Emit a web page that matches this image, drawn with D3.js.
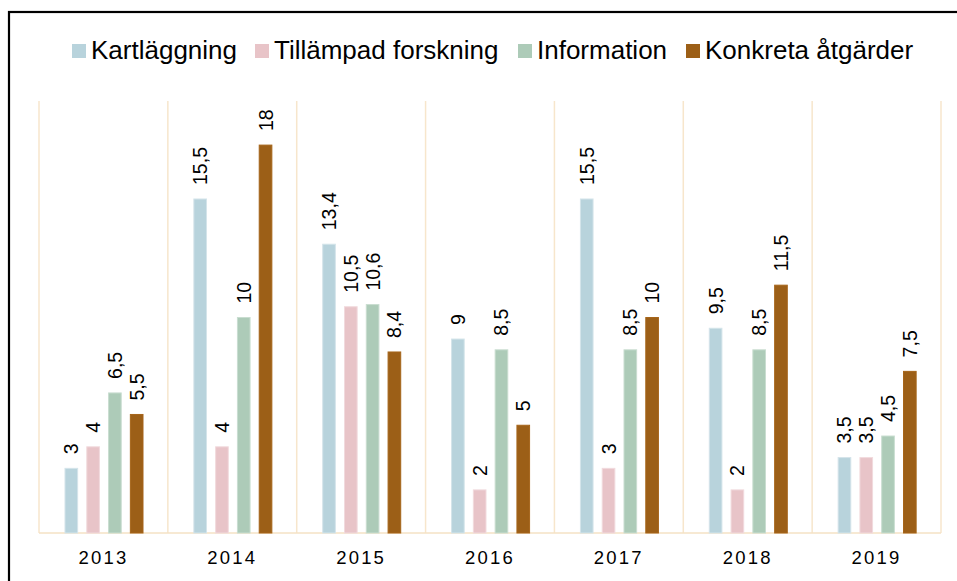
<!DOCTYPE html>
<html>
<head>
<meta charset="utf-8">
<script src="https://cdn.jsdelivr.net/npm/d3@7"></script>
<style>
  html, body { margin: 0; padding: 0; background: #fff; }
  svg { display: block; font-family: "Liberation Sans", Arial, sans-serif; }
</style>
</head>
<body>
<svg id="chart" width="957" height="581"></svg>
<script>
const years = ["2013", "2014", "2015", "2016", "2017", "2018", "2019"];
const seriesNames = ["Kartläggning", "Tillämpad forskning", "Information", "Konkreta åtgärder"];
const kartlaggning = [3, 15.5, 13.4, 9, 15.5, 9.5, 3.5];
const tillampad = [4, 4, 10.5, 2, 3, 2, 3.5];
const information = [6.5, 10, 10.6, 8.5, 8.5, 8.5, 4.5];
const konkreta = [5.5, 18, 8.4, 5, 10, 11.5, 7.5];
const colors = ["#B8D3DC", "#E8C4C8", "#ADCBB8", "#9C5F17"];
const strokes = ["#D4E4EA", "#F1DADD", "#C9DDD0", "#A6651A"];

const seriesValues = [kartlaggning, tillampad, information, konkreta];

const svg = d3.select("#chart");

// frame
svg.append("rect")
  .attr("x", 9).attr("y", 12)
  .attr("width", 960).attr("height", 600)
  .attr("fill", "none").attr("stroke", "#000").attr("stroke-width", 2.2);

const plotLeft = 39, plotRight = 941, baseY = 533, topY = 102;

const x0 = d3.scaleBand().domain(years).range([plotLeft, plotRight]).padding(0);
const x1 = d3.scaleBand().domain(seriesNames).range([26, 104]).paddingInner(0.42).paddingOuter(0);
const y = d3.scaleLinear().domain([0, 20]).range([baseY, topY]);

// gridlines (category separators)
const bounds = years.map(d => x0(d)).concat([x0(years[years.length - 1]) + x0.bandwidth()]);
svg.append("g").selectAll("line").data(bounds).join("line")
  .attr("x1", d => d).attr("x2", d => d)
  .attr("y1", topY - 1).attr("y2", baseY)
  .attr("stroke", "#F7E6CC").attr("stroke-width", 1.5);

svg.append("line")
  .attr("x1", plotLeft).attr("x2", plotRight)
  .attr("y1", baseY).attr("y2", baseY)
  .attr("stroke", "#F5E2C4").attr("stroke-width", 1.5);

// bars
const groups = svg.append("g").selectAll("g").data(years).join("g")
  .attr("transform", d => `translate(${x0(d)},0)`);

const fmt = v => String(v).replace(".", ",");

seriesNames.forEach((name, si) => {
  const vals = seriesValues[si];
  groups.append("rect")
    .attr("x", (d, i) => x1(name))
    .attr("y", (d, i) => y(vals[i]))
    .attr("width", x1.bandwidth())
    .attr("height", (d, i) => baseY - y(vals[i]))
    .attr("fill", colors[si])
    .attr("stroke", strokes[si])
    .attr("stroke-width", 1);

  groups.append("text")
    .attr("transform", (d, i) => `translate(${x1(name) + x1.bandwidth() / 2},${y(vals[i]) - 14}) rotate(-90)`)
    .attr("dominant-baseline", "central")
    .attr("text-anchor", "start")
    .attr("font-size", 19.5)
    .attr("fill", "#000")
    .text((d, i) => fmt(vals[i]));
});

// x axis labels
const xAxis = d3.axisBottom(x0).tickSize(0).tickPadding(0);
const xg = svg.append("g").attr("transform", `translate(0,${baseY})`).call(xAxis);
xg.select(".domain").remove();
xg.selectAll("text")
  .attr("y", 31)
  .attr("dy", 0)
  .attr("font-size", 18.5)
  .attr("letter-spacing", 2.2)
  .attr("fill", "#000")
  .attr("font-family", "Liberation Sans, Arial, sans-serif");

// legend
const legendX = [72, 255, 518, 686];
const legend = svg.append("g").selectAll("g").data(seriesNames).join("g")
  .attr("transform", (d, i) => `translate(${legendX[i]},0)`);
legend.append("rect")
  .attr("x", 0).attr("y", 44).attr("width", 14).attr("height", 14)
  .attr("fill", (d, i) => colors[i]);
legend.append("text")
  .attr("x", 19).attr("y", 59)
  .attr("font-size", 26)
  .attr("fill", "#000")
  .text(d => d);
</script>
</body>
</html>
